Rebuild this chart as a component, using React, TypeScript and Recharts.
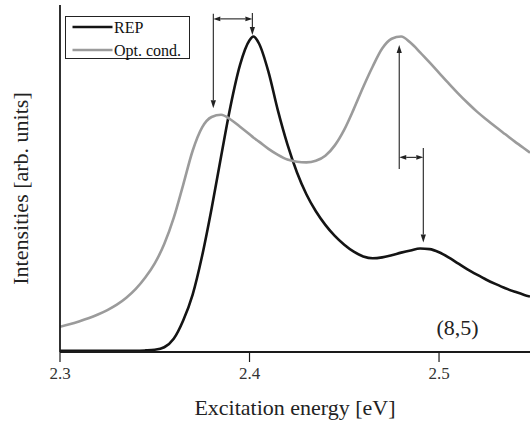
import React from 'react';
import { LineChart, Line, XAxis, YAxis, ReferenceLine, ReferenceDot, Legend, Label } from 'recharts';

const FONT = "'Liberation Serif', 'Times New Roman', serif";

const energies = [
  2.300, 2.305, 2.310, 2.315, 2.320, 2.325, 2.330, 2.335, 2.340, 2.345,
  2.350, 2.355, 2.360, 2.365, 2.370, 2.375, 2.380, 2.385, 2.390, 2.395,
  2.400, 2.402, 2.405, 2.410, 2.415, 2.420, 2.425, 2.430, 2.435, 2.440,
  2.445, 2.450, 2.455, 2.460, 2.465, 2.470, 2.475, 2.480, 2.485, 2.490,
  2.495, 2.500, 2.505, 2.510, 2.515, 2.520, 2.525, 2.530, 2.535, 2.540,
  2.545, 2.548,
];

const repValues = [
  0.04, 0.04, 0.04, 0.04, 0.04, 0.04, 0.04, 0.04, 0.04, 0.05,
  0.07, 0.15, 0.42, 1.00, 1.82, 3.05, 4.55, 6.20, 7.80, 9.10,
  9.88, 10.0, 9.78, 8.88, 7.65, 6.58, 5.70, 5.00, 4.46, 4.03,
  3.68, 3.40, 3.18, 3.03, 2.97, 3.00, 3.07, 3.15, 3.22, 3.28,
  3.26, 3.16, 3.00, 2.81, 2.62, 2.45, 2.29, 2.15, 2.02, 1.91,
  1.81, 1.76,
];

const optValues = [
  0.80, 0.88, 0.97, 1.07, 1.19, 1.33, 1.50, 1.72, 2.00, 2.36,
  2.81, 3.42, 4.25, 5.30, 6.38, 7.12, 7.45, 7.52, 7.37, 7.14,
  6.90, 6.80, 6.67, 6.44, 6.25, 6.10, 6.03, 6.01, 6.06, 6.22,
  6.55, 7.05, 7.70, 8.40, 9.05, 9.62, 9.93, 10.00, 9.80, 9.50,
  9.18, 8.85, 8.52, 8.20, 7.90, 7.62, 7.37, 7.13, 6.90, 6.67,
  6.45, 6.32,
];

const seriesNames = ['REP', 'Opt. cond.'];
const majorTicks = [2.3, 2.4, 2.5];
const minorTicks = [2.30, 2.32, 2.34, 2.36, 2.38, 2.40, 2.42, 2.44, 2.46, 2.48, 2.50, 2.52, 2.54];
const yTicks = [0, 1, 2, 3, 4, 5, 6, 7, 8, 9, 10, 11];
const xDomain = [2.3, 2.548];
const yDomain = [0, 11];

const xTitle = 'Excitation energy [eV]';
const yTitle = 'Intensities [arb. units]';
const sampleLabel = '(8,5)';
const sampleLabelPos = { x: 2.5098, y: 0.79 };

// vertical arrows: x, start y, tip y
const verticalArrows = [
  { x: 2.3809, from: 10.72, to: 7.73 },
  { x: 2.4015, from: 10.75, to: 10.05 },
  { x: 2.4790, from: 5.80, to: 9.73 },
  { x: 2.4917, from: 6.47, to: 3.47 },
];
// double-headed horizontal arrows
const spanArrows = [
  { x1: 2.3809, x2: 2.4015, y: 10.56 },
  { x1: 2.4790, x2: 2.4917, y: 6.17 },
];

const data = energies.map((x, i) => ({ x, rep: repValues[i], opt: optValues[i] }));

const COLORS = { rep: '#141414', opt: '#9b9b9b', axis: '#1a1a1a', arrow: '#222' };

function arrowHead(xt: number, yt: number, xf: number, yf: number, len = 8, half = 2.6) {
  const dx = xt - xf;
  const dy = yt - yf;
  const d = Math.sqrt(dx * dx + dy * dy) || 1;
  const ux = dx / d;
  const uy = dy / d;
  const bx = xt - ux * len;
  const by = yt - uy * len;
  const px = -uy * half;
  const py = ux * half;
  return { pts: `${xt},${yt} ${bx + px},${by + py} ${bx - px},${by - py}`, bx, by };
}

const SingleArrow = (p: any) => {
  const { x1, y1, x2, y2 } = p;
  if (x1 == null) return null;
  const h = arrowHead(x2, y2, x1, y1);
  return (
    <g>
      <line x1={x1} y1={y1} x2={h.bx} y2={h.by} stroke={COLORS.arrow} strokeWidth={1.1} />
      <polygon points={h.pts} fill={COLORS.arrow} />
    </g>
  );
};

const DoubleArrow = (p: any) => {
  const { x1, y1, x2, y2 } = p;
  if (x1 == null) return null;
  const a = arrowHead(x2, y2, x1, y1, 7, 2.4);
  const b = arrowHead(x1, y1, x2, y2, 7, 2.4);
  return (
    <g>
      <line x1={b.bx} y1={b.by} x2={a.bx} y2={a.by} stroke={COLORS.arrow} strokeWidth={1.1} />
      <polygon points={a.pts} fill={COLORS.arrow} />
      <polygon points={b.pts} fill={COLORS.arrow} />
    </g>
  );
};

const renderLegend = (props: any) => {
  const payload = [...((props && props.payload) || [])].sort(
    (a: any, b: any) => seriesNames.indexOf(a.value) - seriesNames.indexOf(b.value)
  );
  return (
    <svg width={140} height={43} style={{ display: 'block', overflow: 'visible' }}>
      <rect x={0.5} y={0.5} width={124} height={42} fill="#fff" stroke="#222" strokeWidth={1} />
      {payload.map((entry: any, i: number) => {
        const ly = i === 0 ? 11 : 34;
        return (
          <g key={i}>
            <line x1={7.5} x2={47.5} y1={ly} y2={ly} stroke={entry.color} strokeWidth={2.6} />
            <text x={49} y={ly + 5.5} fontFamily={FONT} fontSize={16} fill="#111">
              {entry.value}
            </text>
          </g>
        );
      })}
    </svg>
  );
};

const BottomTick = (props: any) => {
  const { x, y, payload } = props;
  return (
    <text x={x} y={y + 12} textAnchor="middle" fontFamily={FONT} fontSize={17} fill="#333">
      {Number(payload.value).toFixed(1)}
    </text>
  );
};

const XTitle = (props: any) => {
  const vb = props.viewBox || {};
  return (
    <text x={vb.x + vb.width / 2} y={vb.y + 63} textAnchor="middle" fontFamily={FONT} fontSize={22} fill="#222">
      {xTitle}
    </text>
  );
};

const YTitle = (props: any) => {
  const vb = props.viewBox || {};
  const cx = vb.x + 27.5;
  const cy = vb.y + vb.height / 2 + 10;
  return (
    <text x={cx} y={cy} transform={`rotate(-90, ${cx}, ${cy})`} textAnchor="middle" fontFamily={FONT} fontSize={22} fill="#222">
      {yTitle}
    </text>
  );
};

export default function App() {
  return (
    <div style={{ position: 'absolute', left: 0, top: 0, width: 530, height: 424, overflow: 'hidden', background: '#fff' }}>
      <LineChart width={530} height={424} data={data} margin={{ top: 5, right: 0, left: 0, bottom: 42 }}>
        <XAxis
          xAxisId="top"
          orientation="top"
          dataKey="x"
          type="number"
          domain={xDomain}
          allowDataOverflow
          ticks={minorTicks}
          height={0}
          tick={false}
          tickSize={-3}
          tickLine={{ stroke: COLORS.axis, strokeWidth: 1 }}
          axisLine={{ stroke: COLORS.axis, strokeWidth: 1.8 }}
        />
        <XAxis
          xAxisId="minor"
          dataKey="x"
          type="number"
          domain={xDomain}
          allowDataOverflow
          ticks={minorTicks}
          height={0}
          tick={false}
          tickSize={6}
          tickLine={{ stroke: COLORS.axis, strokeWidth: 1.2 }}
          axisLine={false}
        />
        <XAxis
          xAxisId="main"
          dataKey="x"
          type="number"
          domain={xDomain}
          allowDataOverflow
          ticks={majorTicks}
          height={30}
          tickSize={10}
          tickMargin={5}
          tick={<BottomTick />}
          tickLine={{ stroke: COLORS.axis, strokeWidth: 1.2 }}
          axisLine={{ stroke: COLORS.axis, strokeWidth: 1.8 }}
        >
          <Label content={<XTitle />} />
        </XAxis>
        <YAxis
          type="number"
          domain={yDomain}
          allowDataOverflow
          ticks={yTicks}
          width={60}
          tick={false}
          tickSize={-4}
          tickLine={{ stroke: COLORS.axis, strokeWidth: 1 }}
          axisLine={{ stroke: COLORS.axis, strokeWidth: 1.8 }}
        >
          <Label content={<YTitle />} />
        </YAxis>
        <Legend
          layout="vertical"
          align="center"
          verticalAlign="middle"
          content={renderLegend}
          wrapperStyle={{ position: 'absolute', left: 65, top: 16, width: 140, height: 43 }}
        />
        <Line
          xAxisId="main"
          type="monotone"
          dataKey="rep"
          name={seriesNames[0]}
          stroke={COLORS.rep}
          strokeWidth={2.6}
          dot={false}
          isAnimationActive={false}
        />
        <Line
          xAxisId="main"
          type="monotone"
          dataKey="opt"
          name={seriesNames[1]}
          stroke={COLORS.opt}
          strokeWidth={2.6}
          dot={false}
          isAnimationActive={false}
        />
        {verticalArrows.map((a, i) => (
          <ReferenceLine
            key={`v${i}`}
            xAxisId="main"
            segment={[{ x: a.x, y: a.from }, { x: a.x, y: a.to }]}
            ifOverflow="visible"
            shape={(p: any) => <SingleArrow {...p} />}
          />
        ))}
        {spanArrows.map((a, i) => (
          <ReferenceLine
            key={`h${i}`}
            xAxisId="main"
            segment={[{ x: a.x1, y: a.y }, { x: a.x2, y: a.y }]}
            ifOverflow="visible"
            shape={(p: any) => <DoubleArrow {...p} />}
          />
        ))}
        <ReferenceDot
          xAxisId="main"
          x={sampleLabelPos.x}
          y={sampleLabelPos.y}
          r={0}
          fill="none"
          stroke="none"
          ifOverflow="visible"
          label={{ value: sampleLabel, position: 'center', fontSize: 22, fontFamily: FONT, fill: '#222' }}
        />
      </LineChart>
    </div>
  );
}
